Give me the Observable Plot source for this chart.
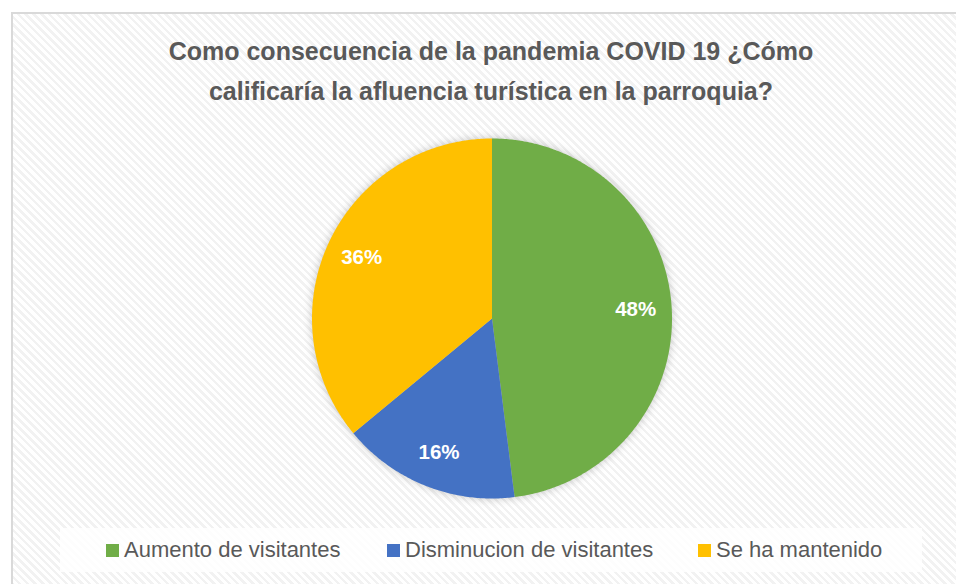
<!DOCTYPE html>
<html>
<head>
<meta charset="utf-8">
<script src="https://cdn.jsdelivr.net/npm/d3@7"></script>
<script src="https://cdn.jsdelivr.net/npm/@observablehq/plot@0.6"></script>
<style>
  html, body { margin: 0; padding: 0; background: #fff; width: 956px; height: 584px; overflow: hidden; }
  #frame {
    position: absolute; left: 11px; top: 12px; width: 960px; height: 600px;
    border: 2px solid #d9d9d9;
    background: repeating-linear-gradient(45deg, #ffffff 0px, #ffffff 3px, #f2f2f2 3px, #f2f2f2 5.5px);
  }
  #title {
    position: absolute; left: 0; width: 982px; top: 31px; text-align: center;
    font-family: "Liberation Sans", Arial, sans-serif; font-weight: bold; font-size: 25px;
    line-height: 40px; color: #595959;
  }
  #chart { position: absolute; left: 0; top: 0; }
  #chart svg { background: transparent; }
  #legend {
    position: absolute; left: 60px; top: 528px; width: 862px; height: 44px;
    background: rgba(255,255,255,0.85);
    font-family: "Liberation Sans", Arial, sans-serif; font-size: 22px; color: #595959;
  }
  .item { position: absolute; top: 0; height: 44px; display: flex; align-items: center; }
  .sw { width: 13px; height: 13px; margin-right: 5px; }
</style>
</head>
<body>
<div id="frame"></div>
<div id="title">Como consecuencia de la pandemia COVID 19 ¿Cómo<br>calificaría la afluencia turística en la parroquia?</div>
<div id="chart"></div>
<div id="legend"></div>
<script>
const categories = ["Aumento de visitantes", "Disminucion de visitantes", "Se ha mantenido"];
const values = [48, 16, 36];
const colors = ["#70AD47", "#4472C4", "#FFC000"];
const labels = ["48%", "16%", "36%"];

const data = categories.map((c, i) => ({category: c, value: values[i], label: labels[i]}));
const arcs = d3.pie().sort(null).value(d => d.value)(data);

// polygon points for each slice (angles from the pie layout, clockwise from top)
const pts = [];
arcs.forEach(a => {
  pts.push({category: a.data.category, x: 0, y: 0});
  const n = Math.max(2, Math.ceil((a.endAngle - a.startAngle) / 0.01));
  for (let k = 0; k <= n; k++) {
    const t = a.startAngle + (a.endAngle - a.startAngle) * k / n;
    pts.push({category: a.data.category, x: Math.sin(t), y: Math.cos(t)});
  }
  pts.push({category: a.data.category, x: 0, y: 0});
});
const labelPts = arcs.map(a => {
  const m = (a.startAngle + a.endAngle) / 2;
  return {label: a.data.label, x: 0.8 * Math.sin(m), y: 0.8 * Math.cos(m)};
});

const cx = 491.5, cy = 318, R = 180, W = 956, H = 584;
const plot = Plot.plot({
  width: W, height: H,
  marginLeft: cx - R, marginRight: W - cx - R, marginTop: cy - R, marginBottom: H - cy - R,
  x: {domain: [-1, 1], axis: null},
  y: {domain: [-1, 1], axis: null},
  color: {domain: categories, range: colors},
  style: {background: "transparent", overflow: "visible"},
  marks: [
    Plot.line(pts, {x: "x", y: "y", z: "category", fill: "category", stroke: "none", curve: "linear-closed"}),
    Plot.text(labelPts, {x: "x", y: "y", text: "label", fill: "white", fontSize: 20.5, fontWeight: "bold",
      fontFamily: "Liberation Sans, Arial, sans-serif"})
  ]
});
plot.querySelector("g[aria-label=line]")?.setAttribute("style", "filter: drop-shadow(0 0 4px rgba(0,0,0,0.22))");
document.getElementById("chart").appendChild(plot);

const legend = document.getElementById("legend");
const lefts = [46, 327, 638];
categories.forEach((c, i) => {
  const it = document.createElement("div");
  it.className = "item";
  it.style.left = lefts[i] + "px";
  it.innerHTML = `<span class="sw" style="background:${colors[i]}"></span><span>${c}</span>`;
  legend.appendChild(it);
});
</script>
</body>
</html>
